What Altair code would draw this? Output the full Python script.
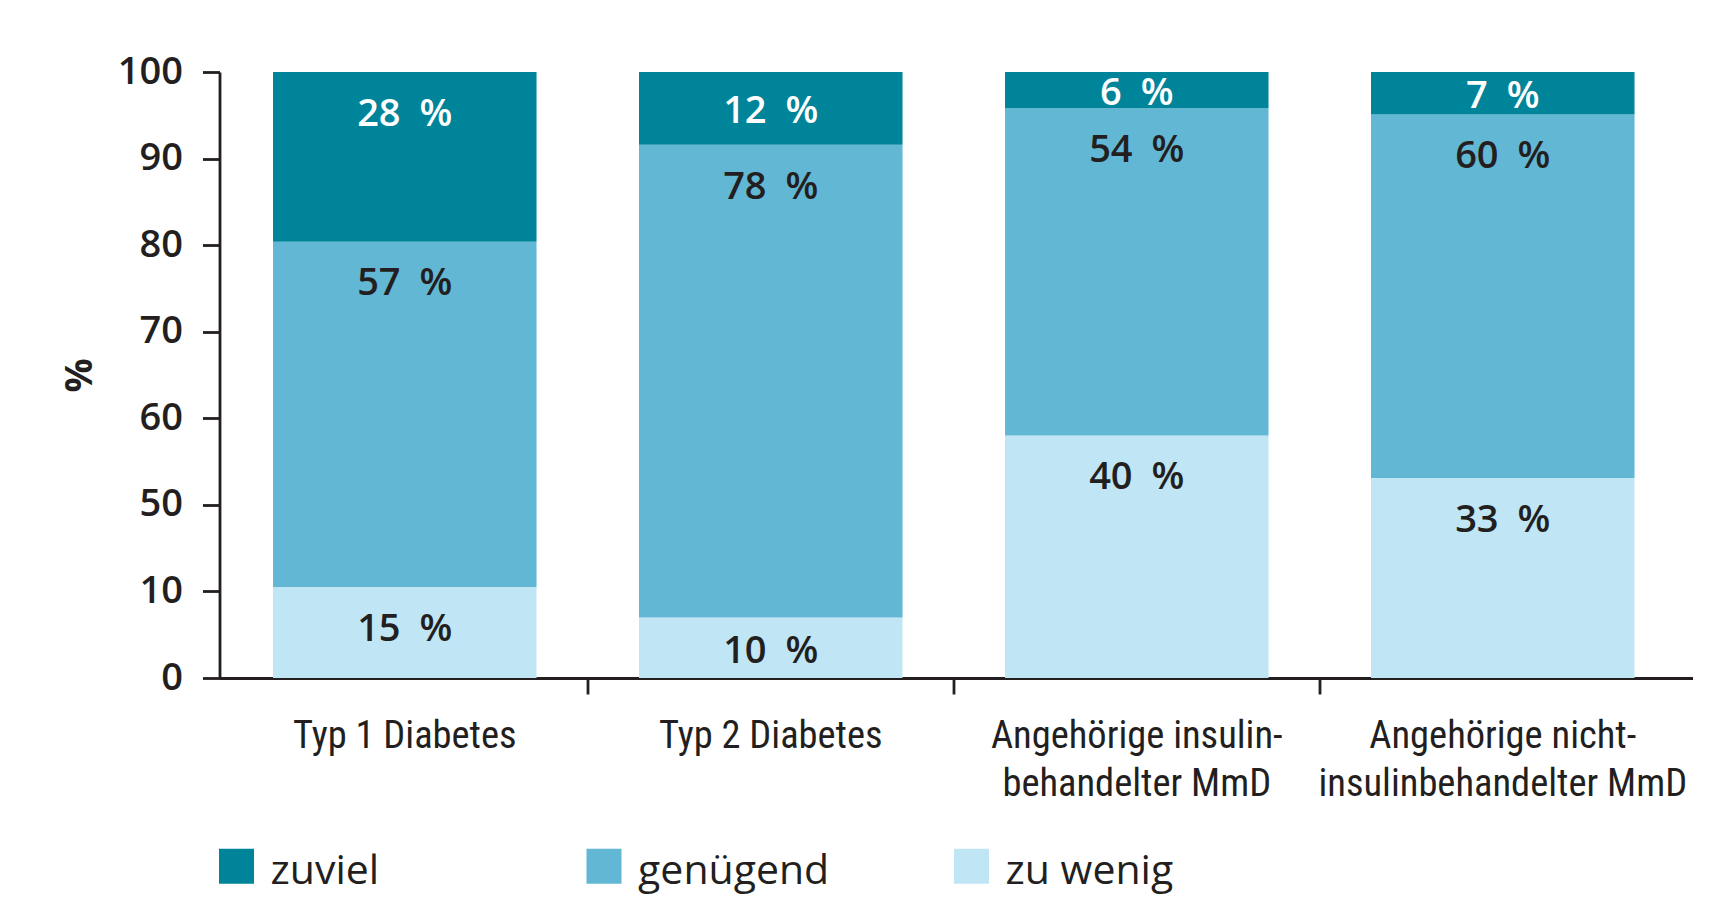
import altair as alt
import pandas as pd

# ---- data ----
groups = [
    "Typ 1 Diabetes",
    "Typ 2 Diabetes",
    "Angehörige insulin-\nbehandelter MmD",
    "Angehörige nicht-\ninsulinbehandelter MmD",
]
levels = ["zuviel", "genügend", "zu wenig"]          # legend order
zuviel = [28, 12, 6, 7]
genuegend = [57, 78, 54, 60]
zu_wenig = [15, 10, 40, 33]
level_colors = ["#00849A", "#62B7D4", "#C0E6F6"]
y_tick_labels = ["0", "10", "50", "60", "70", "80", "90", "100"]

# ---- build table ----
rows = []
series = [("zu wenig", zu_wenig), ("genügend", genuegend), ("zuviel", zuviel)]
for i, g in enumerate(groups):
    for order, (lvl, vals) in enumerate(series):
        rows.append({"Gruppe": g, "Bewertung": lvl, "Wert": vals[i], "Reihenfolge": order})
df = pd.DataFrame(rows)

n = len(y_tick_labels) - 1
tick_values = [100 * i / n for i in range(n + 1)]
label_expr = "[" + ",".join(f"'{t}'" for t in y_tick_labels) + f"][round(datum.value * {n} / 100)]"

DARK = "#231f20"
NUM_FONT = "Open Sans"
CAT_FONT = "'Liberation Sans Narrow', 'Roboto Condensed', Roboto, sans-serif"

PAD_INNER = 0.28

base = alt.Chart(df).transform_stack(
    stack="Wert",
    groupby=["Gruppe"],
    as_=["y0", "y1"],
    sort=[alt.SortField("Reihenfolge", order="ascending")],
).transform_calculate(
    ly="max(datum.y1 - 6.4, (datum.y0 + datum.y1) / 2)",
    lbl="datum.Wert + '\u2002%'",
)

x_scale = alt.Scale(paddingInner=PAD_INNER, paddingOuter=0.1523, align=0.48)

x_enc = alt.X(
    "Gruppe:N",
    sort=groups,
    title=None,
    scale=x_scale,
    axis=alt.Axis(
        labelExpr="split(datum.label, '\\n')",
        labelAngle=0,
        labelFont=CAT_FONT,
        labelFontSize=38.5,
        labelLineHeight=48,
        labelColor=DARK,
        labelPadding=23,
        labelLimit=600,
        bandPosition=-(PAD_INNER / 2) / (1 - PAD_INNER),
        tickSize=16,
        tickWidth=2.8,
        tickColor=DARK,
        tickOpacity={"condition": {"test": f"datum.value === '{groups[0]}'", "value": 0}, "value": 1},
        domainColor=DARK,
        domainWidth=2.8,
        grid=False,
    ),
)

y_scale = alt.Scale(domain=[0, 100], nice=False)

bars = base.mark_bar().encode(
    x=x_enc,
    y=alt.Y(
        "y0:Q",
        scale=y_scale,
        axis=alt.Axis(
            values=tick_values,
            labelExpr=label_expr,
            title="%",
            titleFont=NUM_FONT,
            titleFontSize=38,
            titleFontWeight="bold",
            titleColor=DARK,
            titlePadding=18,
            labelFont=NUM_FONT,
            labelFontSize=38,
            labelFontWeight=600,
            labelColor=DARK,
            labelPadding=20,
            tickSize=17,
            tickWidth=2.8,
            tickColor=DARK,
            domainColor=DARK,
            domainWidth=2.8,
            grid=False,
        ),
    ),
    y2="y1:Q",
    color=alt.Color(
        "Bewertung:N",
        scale=alt.Scale(domain=levels, range=level_colors),
        legend=alt.Legend(
            title=None,
            orient="none",
            legendX=-3.5,
            legendY=791,
            direction="horizontal",
            columns=3,
            gridAlign="all",
            columnPadding=121.5,
            symbolType="M-1,-2H1V0H-1Z",
            symbolSize=1225,
            symbolStrokeWidth=0,
            labelFont=NUM_FONT,
            labelFontSize=41,
            labelBaseline="alphabetic",
            labelColor=DARK,
            labelOffset=13.6,
            labelLimit=400,
        ),
    ),
)

labels = base.mark_text(
    font=NUM_FONT, fontSize=38, fontWeight=600, baseline="middle", align="center", dy=4
).encode(
    x=alt.X("Gruppe:N", sort=groups),
    y=alt.Y("ly:Q", scale=y_scale),
    text="lbl:N",
    color=alt.condition(alt.datum.Bewertung == "zuviel", alt.value("white"), alt.value(DARK)),
)

chart = (
    alt.layer(bars, labels)
    .properties(
        width=1473,
        height=606,
        padding={"left": 211.5, "top": 64, "right": 20, "bottom": 217},
        autosize=alt.AutoSizeParams(type="none"),
    )
    .configure_view(stroke=None)
)

chart.save("out.html", embed_options={"renderer": "svg", "actions": False})
